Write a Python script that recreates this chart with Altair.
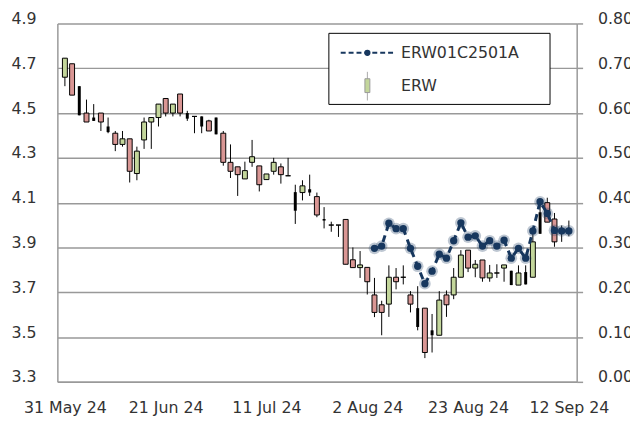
import json
import numpy as np
import pandas as pd
import altair as alt

# ---------------- data ----------------
x_labels = ["31 May 24", "21 Jun 24", "11 Jul 24", "2 Aug 24", "23 Aug 24", "12 Sep 24"]
x_label_idx = [0, 14, 28, 42, 56, 70]

erw_open = [4.66, 4.72, 4.62, 4.50, 4.48, 4.50, 4.44, 4.41, 4.36, 4.385,
            4.23, 4.38, 4.46, 4.48, 4.565, 4.50, 4.585, 4.50, 4.485, 4.485,
            4.465, 4.48, 4.41, 4.28, 4.26, 4.206, 4.28, 4.264, 4.203, 4.24,
            4.26, 4.22, 4.147, 4.145, 4.16, 4.127, 4.027, 4.0, 4.0, 4.025,
            3.845, 3.81, 3.811, 3.688, 3.644, 3.647, 3.767, 3.767, 3.688, 3.629,
            3.629, 3.53, 3.508, 3.688, 3.688, 3.767, 3.888, 3.808, 3.844, 3.764,
            3.786, 3.808, 3.796, 3.732, 3.79, 3.767, 4.057, 4.10, 4.027, 3.975,
            3.977]
erw_high = [4.745, 4.72, 4.62, 4.56, 4.54, 4.50, 4.48, 4.42, 4.42, 4.385,
            4.35, 4.48, 4.48, 4.54, 4.565, 4.54, 4.585, 4.51, 4.485, 4.485,
            4.47, 4.48, 4.42, 4.36, 4.26, 4.283, 4.38, 4.264, 4.228, 4.30,
            4.275, 4.30, 4.18, 4.20, 4.225, 4.145, 4.08, 4.015, 4.0, 4.025,
            3.90, 3.884, 3.811, 3.764, 3.662, 3.82, 3.808, 3.82, 3.705, 3.727,
            3.629, 3.603, 3.705, 3.708, 3.808, 3.888, 3.888, 3.844, 3.844, 3.822,
            3.825, 3.822, 3.796, 3.82, 3.82, 3.969, 4.093, 4.122, 4.054, 3.998,
            4.02]
erw_low = [4.62, 4.58, 4.49, 4.46, 4.465, 4.42, 4.41, 4.33, 4.35, 4.19,
           4.20, 4.34, 4.34, 4.44, 4.485, 4.485, 4.485, 4.465, 4.41, 4.41,
           4.42, 4.405, 4.265, 4.21, 4.13, 4.206, 4.26, 4.15, 4.203, 4.225,
           4.185, 4.22, 4.005, 4.11, 4.13, 4.035, 3.985, 3.97, 3.947, 3.825,
           3.81, 3.764, 3.69, 3.589, 3.508, 3.59, 3.713, 3.735, 3.61, 3.53,
           3.406, 3.431, 3.508, 3.59, 3.669, 3.767, 3.79, 3.767, 3.747, 3.747,
           3.764, 3.747, 3.732, 3.732, 3.735, 3.767, 3.961, 4.013, 3.903, 3.925,
           3.95]
erw_close = [4.745, 4.58, 4.49, 4.46, 4.465, 4.46, 4.415, 4.36, 4.385, 4.24,
             4.33, 4.46, 4.48, 4.54, 4.50, 4.54, 4.50, 4.475, 4.485, 4.44,
             4.42, 4.405, 4.28, 4.24, 4.225, 4.243, 4.305, 4.18, 4.228, 4.28,
             4.225, 4.22, 4.064, 4.175, 4.145, 4.045, 4.02, 4.0, 4.0, 3.825,
             3.81, 3.822, 3.747, 3.61, 3.61, 3.767, 3.747, 3.767, 3.647, 3.545,
             3.431, 3.508, 3.665, 3.644, 3.767, 3.866, 3.808, 3.825, 3.764, 3.786,
             3.786, 3.822, 3.732, 3.786, 3.735, 3.925, 3.961, 4.013, 3.925, 3.965,
             3.972]
# n = normal candle body, b = thin black body
erw_kind = ["n", "n", "b", "n", "b", "n", "b", "n", "n", "n",
            "n", "n", "n", "n", "n", "n", "n", "b", "n", "b",
            "n", "b", "n", "n", "n", "n", "n", "n", "n", "n",
            "n", "n", "b", "n", "b", "n", "b", "n", "n", "n",
            "n", "n", "n", "n", "n", "n", "n", "n", "n", "b",
            "n", "b", "n", "n", "n", "n", "n", "n", "n", "n",
            "n", "n", "b", "n", "b", "n", "b", "n", "n", "b",
            "b"]

opt_start = 43
opt_close = [0.298, 0.303, 0.354, 0.342, 0.342, 0.298, 0.258, 0.219, 0.247, 0.285,
             0.276, 0.315, 0.355, 0.323, 0.326, 0.303, 0.315, 0.303, 0.316, 0.276,
             0.298, 0.276, 0.337, 0.402, 0.376, 0.338, 0.337, 0.337]

left_ticks = [3.3, 3.5, 3.7, 3.9, 4.1, 4.3, 4.5, 4.7, 4.9]
right_ticks = [0.0, 0.1, 0.2, 0.3, 0.4, 0.5, 0.6, 0.7, 0.8]

# ---------------- styles ----------------
FONT = "DejaVu Sans"
TXT = "#333333"
GRID = "#999999"
UP = "#C3D69B"
DOWN = "#D99694"
NAVY = "#17375E"

n = len(erw_open)
df = pd.DataFrame({
    "i": list(range(n)),
    "open": erw_open, "high": erw_high, "low": erw_low, "close": erw_close,
    "kind": erw_kind,
})
df["dir"] = np.where(df["close"] >= df["open"], "up", "down")
opt = pd.DataFrame({"i": list(range(opt_start, opt_start + len(opt_close))), "v": opt_close})

label_expr = f"{json.dumps(x_labels)}[indexof({json.dumps(x_label_idx)}, datum.value)]"

xscale = alt.Scale(domain=[-0.36, 70.4], nice=False, zero=False)
xaxis = alt.Axis(values=x_label_idx, labelExpr=label_expr, title=None, grid=False,
                 ticks=False, domain=True, domainColor=GRID, domainWidth=1.5,
                 labelFont=FONT, labelFontSize=16, labelColor=TXT, labelPadding=26,
                 labelBaseline="middle", labelFlush=False, labelOverlap=False, labelAngle=0)
X = alt.X("i:Q", scale=xscale, axis=xaxis)

yscale = alt.Scale(domain=[3.3, 4.9], nice=False, zero=False)
yaxis = alt.Axis(values=left_ticks, format=".1f", orient="left", title=None,
                 grid=True, gridColor=GRID, gridWidth=1.5, ticks=False,
                 domain=True, domainColor=GRID, domainWidth=1.5,
                 labelAlign="left", labelPadding=47, labelOffset=-5,
                 labelBaseline="middle", labelFont=FONT, labelFontSize=16,
                 labelColor=TXT, labelFlush=False, labelOverlap=False)

rscale = alt.Scale(domain=[0, 0.8], nice=False, zero=True)
raxis = alt.Axis(values=right_ticks, format=".2f", orient="right", title=None,
                 grid=False, ticks=True, tickSize=6, tickColor=GRID, tickWidth=1.5,
                 domain=True, domainColor=GRID, domainWidth=1.5,
                 labelAlign="left", labelPadding=15, labelOffset=-5,
                 labelBaseline="middle", labelFont=FONT, labelFontSize=16,
                 labelColor=TXT, labelFlush=False, labelOverlap=False)

base = alt.Chart(df)
wick = base.mark_rule(color="black", strokeWidth=1).encode(
    x=X, y=alt.Y("low:Q", scale=yscale, axis=yaxis), y2="high:Q")
body = base.transform_filter("datum.kind == 'n'").mark_bar(
    size=5, stroke="black", strokeWidth=1).encode(
    x=X, y=alt.Y("open:Q", scale=yscale, axis=yaxis), y2="close:Q",
    color=alt.Color("dir:N", scale=alt.Scale(domain=["up", "down"], range=[UP, DOWN]), legend=None))
blk = base.transform_filter("datum.kind == 'b'").mark_bar(size=3, color="black").encode(
    x=X, y=alt.Y("open:Q", scale=yscale, axis=yaxis), y2="close:Q")
candles = alt.layer(wick, body, blk)

obase = alt.Chart(opt)
OY = alt.Y("v:Q", scale=rscale, axis=raxis)
oline = obase.mark_line(color=NAVY, strokeWidth=3, strokeDash=[7, 5]).encode(x=X, y=OY)
oglow = obase.mark_circle(color=NAVY, size=140, opacity=0.28).encode(x=X, y=OY)
odot = obase.mark_circle(color=NAVY, size=55, opacity=1).encode(x=X, y=OY)
option = alt.layer(oline, oglow, odot)

# ---------------- legend (drawn by hand) ----------------
one = pd.DataFrame({"a": [0]})
lg_box = alt.Chart(one).mark_rect(fill="white", stroke="black", strokeWidth=1).encode(
    x=alt.value(275), x2=alt.value(499), y=alt.value(10), y2=alt.value(82))
lg_line = alt.Chart(one).mark_rule(color=NAVY, strokeWidth=2, strokeDash=[5, 3]).encode(
    x=alt.value(287), x2=alt.value(340), y=alt.value(29.7))
lg_dot = alt.Chart(one).mark_circle(color=NAVY, size=40, opacity=1).encode(
    x=alt.value(314), y=alt.value(29.7))
lg_t1 = alt.Chart(one).mark_text(align="left", baseline="middle", font=FONT, fontSize=16,
                                 color=TXT, text="ERW01C2501A").encode(
    x=alt.value(348), y=alt.value(29.5))
lg_wick = alt.Chart(one).mark_rule(color="#aaaaaa", strokeWidth=1).encode(
    x=alt.value(314), y=alt.value(49), y2=alt.value(78))
lg_body = alt.Chart(one).mark_rect(fill=UP, stroke="#999999", strokeWidth=1).encode(
    x=alt.value(311.5), x2=alt.value(316.5), y=alt.value(56), y2=alt.value(70))
lg_t2 = alt.Chart(one).mark_text(align="left", baseline="middle", font=FONT, fontSize=16,
                                 color=TXT, text="ERW").encode(
    x=alt.value(348), y=alt.value(63.5))

chart = alt.layer(
    candles, option, lg_box, lg_line, lg_dot, lg_t1, lg_wick, lg_body, lg_t2
).resolve_scale(y="independent").properties(
    width=526, height=363,
    padding={"left": 50, "top": 13, "right": 54, "bottom": 37},
    autosize=alt.AutoSizeParams(type="none"),
).configure_view(stroke=None)

chart.save("out.html", embed_options={"renderer": "svg", "actions": False})
